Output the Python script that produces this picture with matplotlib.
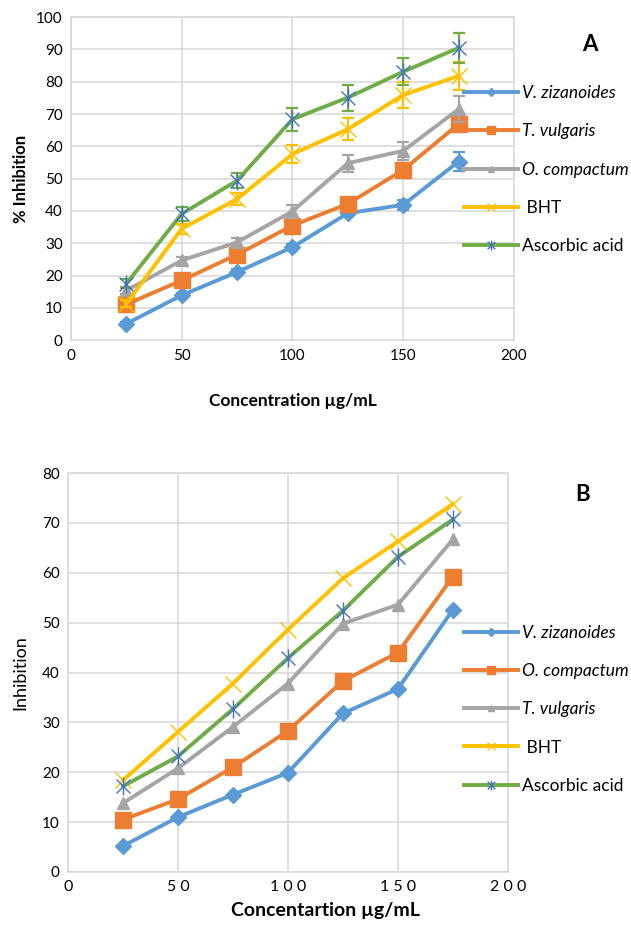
import matplotlib
matplotlib.use("Agg")
import matplotlib.pyplot as plt
from matplotlib.path import Path

plt.rcParams['font.family'] = ['Lato', 'DejaVu Sans']

conc = [25, 50, 75, 100, 125, 150, 175]

# panel A
a_names = ['V. zizanoides', 'T. vulgaris', 'O. compactum', 'BHT', 'Ascorbic acid']
a_vals = [
    [5.1, 13.9, 21.1, 28.8, 39.3, 41.9, 55.3],
    [11.1, 18.5, 26.5, 35.5, 42.2, 52.7, 66.9],
    [15.4, 24.7, 30.3, 39.9, 54.8, 58.6, 71.5],
    [11.3, 34.5, 43.7, 57.6, 65.3, 75.9, 81.8],
    [17.5, 39.1, 49.4, 68.4, 75.1, 83.1, 90.5],
]
a_err = [
    [0.5, 0.8, 0.8, 1.0, 1.0, 1.6, 2.8],
    [0.8, 1.0, 1.0, 1.2, 1.2, 1.5, 2.2],
    [1.0, 1.2, 1.2, 2.0, 2.6, 2.7, 4.0],
    [1.0, 1.5, 2.0, 2.8, 3.4, 4.0, 4.2],
    [1.5, 2.2, 2.4, 3.6, 4.0, 4.2, 4.6],
]

# panel B
b_names = ['V. zizanoides', 'O. compactum', 'T. vulgaris', 'BHT', 'Ascorbic acid']
b_vals = [
    [5.2, 11.0, 15.5, 19.9, 31.8, 36.7, 52.6],
    [10.5, 14.6, 21.0, 28.3, 38.3, 44.0, 59.2],
    [13.8, 20.8, 29.1, 37.8, 49.8, 53.6, 66.7],
    [18.4, 28.1, 37.8, 48.6, 58.9, 66.3, 73.8],
    [17.2, 23.2, 32.7, 42.9, 52.4, 63.2, 70.7],
]

# excel style star: an x with a vertical stroke
star = Path([(-1, -1), (1, 1), (-1, 1), (1, -1), (0, -1.3), (0, 1.3)],
            [Path.MOVETO, Path.LINETO, Path.MOVETO, Path.LINETO, Path.MOVETO, Path.LINETO])

colors = ['#5B9BD5', '#ED7D31', '#A5A5A5', '#FFC000', '#70AD47']
markers = ['D', 's', '^', 'x', star]
msizes = [8, 11, 8, 11, 13]
mec = ['#5B9BD5', '#ED7D31', '#A5A5A5', '#FFC000', '#4472C4']
italic = [True, True, True, False, False]

fig = plt.figure(figsize=(6.31, 9.32), dpi=100)
axA = fig.add_axes([0.1125, 0.635, 0.702, 0.3466])
axB = fig.add_axes([0.1078, 0.0644, 0.697, 0.428])


def style(ax, ymax, ystep):
    ax.set_xlim(0, 200)
    ax.set_ylim(0, ymax)
    ax.set_yticks(range(0, ymax + 1, ystep))
    ax.grid(True, color='#d9d9d9', lw=1.2)
    ax.set_axisbelow(True)
    for s in ax.spines.values():
        s.set_color('#d9d9d9')
        s.set_linewidth(1.2)
    ax.tick_params(length=0, labelsize=11, pad=6)


for i in range(5):
    thin = i >= 3
    kw = dict(color=colors[i], lw=2.8, marker=markers[i], ms=msizes[i],
              mec=mec[i], mfc=mec[i] if thin else colors[i], mew=1.0)
    axA.errorbar(conc, a_vals[i], yerr=a_err[i], fmt='none',
                 ecolor=colors[i], elinewidth=1.6, capsize=4, capthick=1.6)
    axA.plot(conc, a_vals[i], label=a_names[i], **kw)
    axB.plot(conc, b_vals[i], label=b_names[i], **kw)

style(axA, 100, 10)
style(axB, 80, 10)
axA.set_xticks(range(0, 201, 50))
axB.set_xticks(range(0, 201, 50))
axB.set_xticklabels([' '.join(str(v)) for v in range(0, 201, 50)], fontsize=11.5)

axA.set_xlabel('Concentration µg/mL', fontsize=12.5, fontweight='bold')
axA.xaxis.set_label_coords(0.5, -0.165)
axA.set_ylabel('% Inhibition', fontsize=12, fontweight='bold')
axA.yaxis.set_label_coords(-0.095, 0.5)
axB.set_xlabel('Concentartion µg/mL', fontsize=14, fontweight='bold')
axB.xaxis.set_label_coords(0.586, -0.075)
axB.set_ylabel('Inhibition', fontsize=13)
axB.yaxis.set_label_coords(-0.09, 0.5)

fig.text(0.935, 0.952, 'A', fontsize=16, fontweight='bold', ha='center', va='center')
fig.text(0.924, 0.469, 'B', fontsize=16, fontweight='bold', ha='center', va='center')

for ax, anchor in ((axA, (0.725, 0.916)), (axB, (0.725, 0.337))):
    h, l = ax.get_legend_handles_labels()
    leg = fig.legend(h, l, loc='upper left', bbox_to_anchor=anchor,
                     frameon=False, fontsize=12.5, handlelength=3.1,
                     labelspacing=1.28, markerscale=0.55, handletextpad=0.2,
                     borderaxespad=0)
    for t, it in zip(leg.get_texts(), italic):
        if it:
            t.set_fontstyle('italic')
        elif t.get_text() == 'BHT':
            t.set_text(' BHT')

fig.savefig('out.png', dpi=100)
